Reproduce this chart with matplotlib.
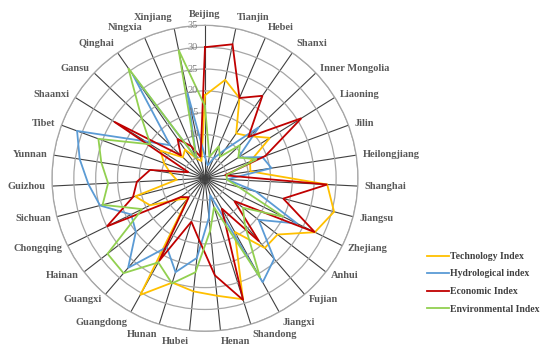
import numpy as np
import matplotlib
matplotlib.use("Agg")
import matplotlib.pyplot as plt
from matplotlib.lines import Line2D

provinces = ['Beijing', 'Tianjin', 'Hebei', 'Shanxi', 'Inner Mongolia', 'Liaoning', 'Jilin',
             'Heilongjiang', 'Shanghai', 'Jiangsu', 'Zhejiang', 'Anhui', 'Fujian', 'Jiangxi',
             'Shandong', 'Henan', 'Hubei', 'Hunan', 'Guangdong', 'Guangxi', 'Hainan',
             'Chongqing', 'Sichuan', 'Guizhou', 'Yunnan', 'Tibet', 'Shaanxi', 'Gansu',
             'Qinghai', 'Ningxia', 'Xinjiang']

technology = [19, 23, 20, 12.5, 14, 17.5, 11, 10.5, 28, 30.5, 28, 21, 21, 14, 29, 27, 26, 25,
              30.5, 6, 8, 14, 16.5, 6.5, 8, 10, 12, 7, 8, 5, 4]
hydrological = [5, 3, 5, 8, 17, 9, 14, 15.4, 5, 12, 23.5, 15.5, 24.3, 27.2, 4, 9, 18.3, 22.5,
                18, 27, 20, 18.8, 24.8, 26.7, 29, 31.2, 16, 11, 29, 5, 20]
economic = [30, 31.3, 20, 23, 13.7, 26, 14.7, 4.6, 28, 18.5, 28, 8.5, 19, 7.9, 29.2, 22.3, 14,
            10.4, 21.6, 5.7, 7, 25, 17, 15.6, 12.7, 4, 24.5, 7.6, 11, 8, 5]
environmental = [16.5, 5, 8, 6, 11, 9, 12.6, 5, 5, 8, 20, 11, 14, 26, 6.9, 12, 21.6, 25.2, 22,
                 28.6, 28.2, 16, 24.2, 22.2, 24, 26, 14.7, 20, 30.7, 5, 30]

series_names = ['Technology Index', 'Hydrological index', 'Economic Index', 'Environmental Index']
series_data = [technology, hydrological, economic, environmental]
series_colors = ['#FFC000', '#5B9BD5', '#C00000', '#92D050']
r_ticks = [0, 5, 10, 15, 20, 25, 30, 35]

serif = ['Liberation Serif', 'DejaVu Serif']

fig = plt.figure(figsize=(5.5, 3.47), dpi=100)
ax = fig.add_axes([0.0945, 0.0452, 0.5564, 0.8818], projection='polar')
ax.set_theta_zero_location('N')
ax.set_theta_direction(-1)

n = len(provinces)
theta = np.arange(n) * 2 * np.pi / n
theta_closed = np.append(theta, theta[0])

ax.set_ylim(0, 35)
ax.set_yticks(r_ticks)
ax.set_yticklabels([])
ax.set_xticks(theta)
ax.set_xticklabels([])
ax.tick_params(length=0)
ax.xaxis.grid(True, color='#404040', lw=0.8)
ax.yaxis.grid(True, color='#a6a6a6', lw=0.9)
ax.spines['polar'].set_color('#a6a6a6')
ax.spines['polar'].set_linewidth(0.9)

handles = []
for name, vals, col in zip(series_names, series_data, series_colors):
    v = np.append(vals, vals[0])
    ax.plot(theta_closed, v, color=col, lw=1.3, solid_joinstyle='miter')
    handles.append(Line2D([0], [0], color=col, lw=1.3))

# radial tick labels
for r in r_ticks[1:]:
    ax.annotate(str(r), xy=(0, r), xytext=(-5, 0), textcoords='offset points',
                ha='right', va='center', fontsize=7.5, color='#808080', family=serif)

# category labels
for t, lab in zip(theta, provinces):
    s, c = np.sin(t), np.cos(t)
    if s > 0.02:
        ha = 'left'
    elif s < -0.02:
        ha = 'right'
    else:
        ha = 'center'
    if c > 0.8:
        va = 'bottom'
    elif c < -0.8:
        va = 'top'
    else:
        va = 'center'
    pad = 4.5
    ax.annotate(lab, xy=(t, 35), xytext=(pad * s, pad * c), textcoords='offset points',
                ha=ha, va=va, fontsize=7.5, fontweight='bold', color='#595959', family=serif,
                annotation_clip=False)

leg = fig.legend(handles, series_names, loc='upper left', bbox_to_anchor=(0.777, 0.274),
                 frameon=False, borderpad=0, borderaxespad=0, handlelength=2.2,
                 handletextpad=0.15, labelspacing=0.88,
                 prop={'family': serif, 'weight': 'bold', 'size': 7})
for txt in leg.get_texts():
    txt.set_color('#404040')

fig.savefig('out.png', dpi=100)
